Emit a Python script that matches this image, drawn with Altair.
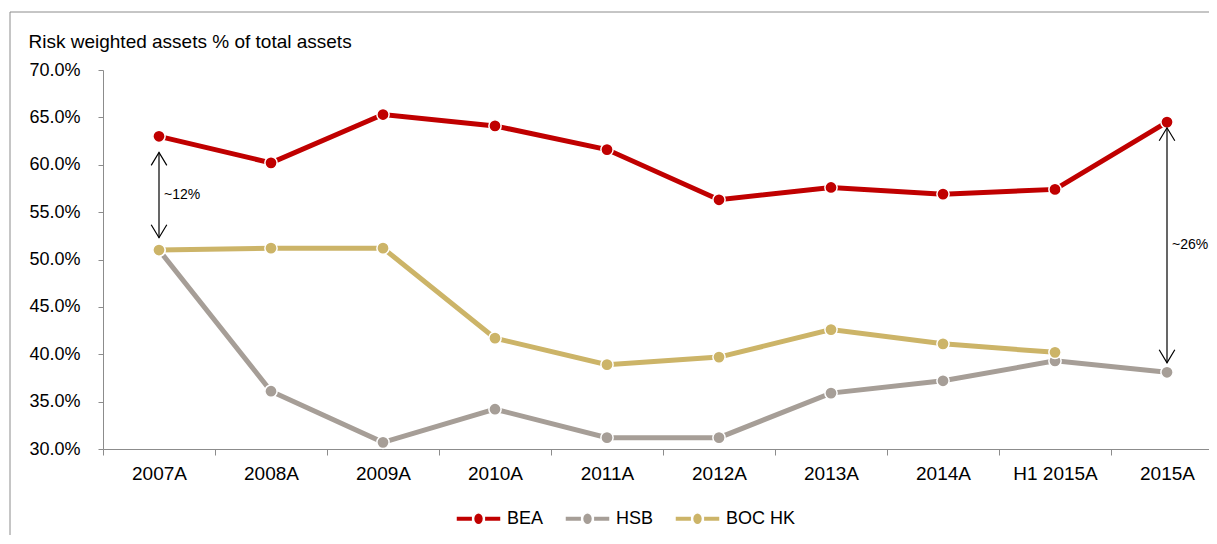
import altair as alt
import pandas as pd

categories = ["2007A", "2008A", "2009A", "2010A", "2011A", "2012A", "2013A", "2014A", "H1 2015A", "2015A"]
series_names = ["BEA", "HSB", "BOC HK"]
series_colors = ["#C00000", "#A69E97", "#CCB468"]
bea = [63.0, 60.2, 65.3, 64.1, 61.6, 56.3, 57.6, 56.9, 57.4, 64.5]
hsb = [51.0, 36.1, 30.7, 34.2, 31.2, 31.2, 35.9, 37.2, 39.3, 38.1]
boc = [51.0, 51.2, 51.2, 41.7, 38.9, 39.7, 42.6, 41.1, 40.2, None]

arrow_cats = ["2007A", "2015A"]
arrow_top = [61.3, 63.9]
arrow_bottom = [52.3, 39.1]
arrow_labels = ["~12%", "~26%"]

rows = []
for i, (name, vals) in enumerate(zip(series_names, [bea, hsb, boc])):
    for c, v in zip(categories, vals):
        if v is not None:
            rows.append({"cat": c, "series": name, "val": v, "sorder": i})
df = pd.DataFrame(rows)
arrows = pd.DataFrame({"cat": arrow_cats, "top": arrow_top, "bottom": arrow_bottom, "label": arrow_labels})

FONT = "Liberation Sans"
W, H = 1100, 379

x_enc = alt.X(
    "cat:N", sort=categories,
    scale=alt.Scale(type="band", paddingInner=0, paddingOuter=0, range=[0, 1120]),
    axis=alt.Axis(title=None, labelAngle=0, tickBand="extent", tickSize=6, labelPadding=9,
                  labelFontSize=19, labelColor="#000000", labelFont=FONT,
                  domainColor="#8C8C8C", tickColor="#8C8C8C", grid=False, labelFlush=False),
)
y_scale = alt.Scale(domain=[30, 70], nice=False, zero=False)
y_axis = alt.Axis(
    title="Risk weighted assets % of total assets", titleAngle=0, titleAlign="left",
    titleBaseline="alphabetic", titleX=-75, titleY=-23, titleFontSize=19, titleFontWeight="normal",
    titleFont=FONT, titleColor="#000000",
    values=[30, 35, 40, 45, 50, 55, 60, 65, 70],
    labelExpr="format(datum.value, '.1f') + '%'", labelFontSize=18, labelFont=FONT,
    labelColor="#000000", tickSize=5, labelPadding=18, domainColor="#8C8C8C",
    tickColor="#8C8C8C", grid=False,
)

color_scale = alt.Scale(domain=series_names, range=series_colors)
legend_path = ("M-1,-0.12H-0.26V0.12H-1Z M0.26,-0.12H1V0.12H0.26Z "
               "M-0.22,0A0.22,0.27 0 1,1 0.22,0A0.22,0.27 0 1,1 -0.22,0Z")

frame_data = alt.Chart(pd.DataFrame({"k": [0]}))
frame_left = frame_data.mark_rule(color="#8C8C8C", strokeWidth=1).encode(
    x=alt.value(-93), y=alt.value(-58), y2=alt.value(700))
frame_top = frame_data.mark_rule(color="#8C8C8C", strokeWidth=1).encode(
    x=alt.value(-93), x2=alt.value(W + 6), y=alt.value(-58))

base = alt.Chart(df)
line_layers = [
    base.transform_filter(alt.datum.series == name).mark_line(strokeWidth=5, color=col).encode(
        x=x_enc,
        y=alt.Y("val:Q", scale=y_scale, axis=y_axis),
    )
    for name, col in zip(series_names, series_colors)
]
points = base.mark_point(filled=True, size=150, stroke="white", strokeWidth=1.5, opacity=1).encode(
    x=x_enc,
    y=alt.Y("val:Q", scale=y_scale, axis=y_axis),
    fill=alt.Fill("series:N", scale=color_scale, legend=alt.Legend(
        title=None, orient="none", direction="horizontal", legendX=352, legendY=425,
        symbolType=legend_path, symbolSize=2025, symbolOpacity=1,
        labelFontSize=18, labelFont=FONT, labelColor="#000000", labelOffset=5,
        columnPadding=18, padding=0,
    )),
    order=alt.Order("sorder:Q"),
)

abase = alt.Chart(arrows)
rule = abase.mark_rule(color="black", strokeWidth=1.2).encode(
    x=x_enc, y=alt.Y("top:Q", scale=y_scale, axis=y_axis), y2="bottom:Q"
)
head_up = abase.mark_point(shape="M-0.6,1L0,0L0.6,1", filled=False, stroke="black",
                           strokeWidth=1.2, size=676, opacity=1).encode(
    x=x_enc, y=alt.Y("top:Q", scale=y_scale, axis=y_axis)
)
head_down = abase.mark_point(shape="M-0.6,-1L0,0L0.6,-1", filled=False, stroke="black",
                             strokeWidth=1.2, size=676, opacity=1).encode(
    x=x_enc, y=alt.Y("bottom:Q", scale=y_scale, axis=y_axis)
)
texts = abase.mark_text(align="left", baseline="middle", dx=5, fontSize=14, font=FONT,
                        color="#000000").encode(
    x=x_enc, y=alt.Y("mid:Q", scale=y_scale, axis=y_axis), text="label:N"
).transform_calculate(mid="(datum.top + datum.bottom) / 2")

chart = alt.layer(frame_left, frame_top, *line_layers, points, rule, head_up, head_down, texts).properties(
    width=W, height=H,
    padding={"left": 95, "top": 62, "right": 6, "bottom": 86},
    autosize=alt.AutoSizeParams(type="none"),
    background="white",
).configure_view(stroke=None)

chart.save("out.html", embed_options={"renderer": "svg", "actions": False})
